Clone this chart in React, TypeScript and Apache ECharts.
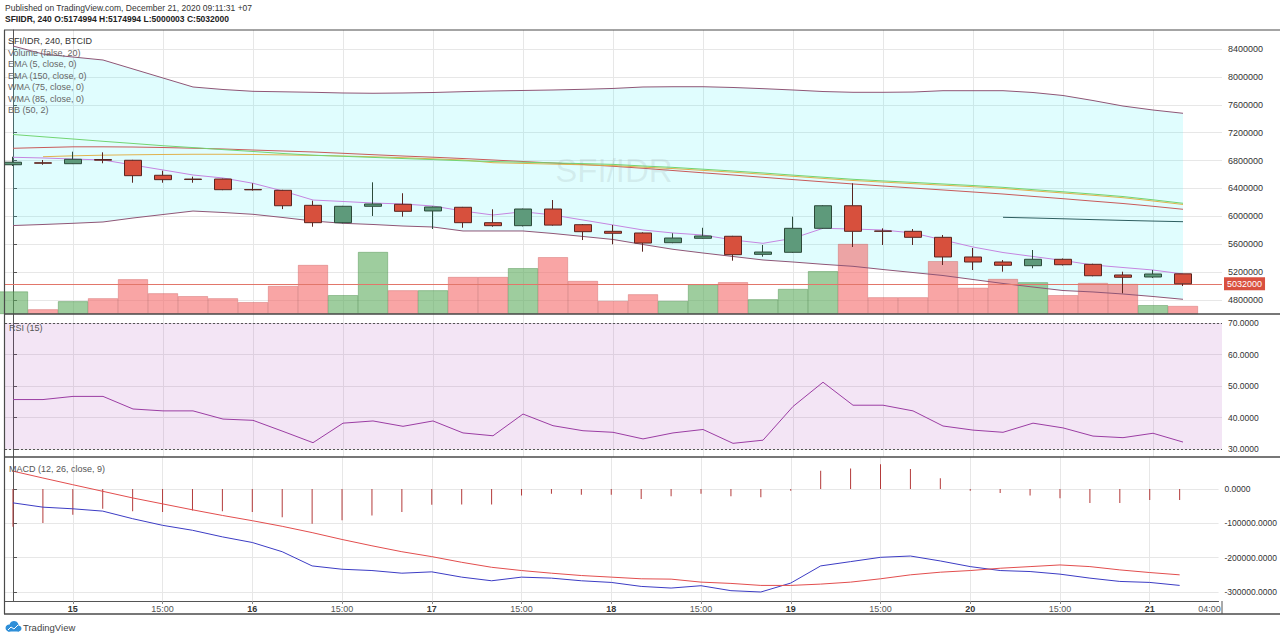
import React, { useEffect, useRef } from 'react';
import * as echarts from 'echarts';

// ---------- DATA ----------
// open, close, low, high per 4h bar (SFI/IDR)
const ohlc: [number, number, number, number][] = [
  [6740000, 6776000, 6722000, 6855000],
  [6768000, 6762000, 6740000, 6808000],
  [6755000, 6818000, 6750000, 6927000],
  [6815000, 6805000, 6761000, 6918000],
  [6804000, 6583000, 6482000, 6810000],
  [6589000, 6526000, 6482000, 6654000],
  [6535000, 6528000, 6482000, 6569000],
  [6535000, 6382000, 6375000, 6540000],
  [6385000, 6380000, 6369000, 6474000],
  [6373000, 6152000, 6104000, 6380000],
  [6158000, 5909000, 5851000, 6224000],
  [5909000, 6144000, 5900000, 6150000],
  [6144000, 6177000, 6005000, 6488000],
  [6173000, 6072000, 5995000, 6331000],
  [6077000, 6134000, 5818000, 6140000],
  [6130000, 5909000, 5836000, 6135000],
  [5909000, 5866000, 5851000, 6101000],
  [5866000, 6105000, 5855000, 6110000],
  [6105000, 5874000, 5865000, 6234000],
  [5880000, 5780000, 5660000, 5890000],
  [5785000, 5757000, 5599000, 5876000],
  [5761000, 5617000, 5493000, 5770000],
  [5622000, 5689000, 5615000, 5757000],
  [5685000, 5718000, 5680000, 5836000],
  [5714000, 5450000, 5364000, 5720000],
  [5455000, 5488000, 5421000, 5589000],
  [5484000, 5828000, 5475000, 5995000],
  [5828000, 6152000, 5820000, 6160000],
  [6152000, 5785000, 5560000, 6474000],
  [5790000, 5785000, 5589000, 5828000],
  [5785000, 5699000, 5589000, 5818000],
  [5699000, 5417000, 5302000, 5732000],
  [5417000, 5345000, 5230000, 5546000],
  [5345000, 5298000, 5206000, 5373000],
  [5292000, 5384000, 5255000, 5517000],
  [5384000, 5306000, 5295000, 5395000],
  [5312000, 5148000, 5140000, 5320000],
  [5159000, 5126000, 4896000, 5206000],
  [5130000, 5173000, 5115000, 5230000],
  [5174994, 5032000, 5000003, 5174994],
];

const volumes = [225, 47, 127, 157, 347, 207, 178, 157, 118, 280, 490, 188, 620, 237, 237, 370, 370, 458, 568, 330,
  130, 197, 130, 297, 318, 147, 250, 428, 700, 167, 167, 528, 262, 350, 317, 188, 310, 300, 88, 80];

const ema5 = [6847000, 6837000, 6822000, 6808000, 6736000, 6665000, 6593000, 6550000, 6474000, 6363000,
  6234000, 6213000, 6191000, 6177000, 6148000, 6076000, 6019000, 6066000, 6019000, 5947000,
  5876000, 5804000, 5761000, 5732000, 5661000, 5613000, 5685000, 5828000, 5818000, 5804000,
  5761000, 5661000, 5560000, 5481000, 5424000, 5367000, 5302000, 5266000, 5230000, 5173000];

const bbUpper = [8443000, 8328000, 8285000, 8242000, 8113000, 7984000, 7855000, 7819000, 7793000, 7786000,
  7779000, 7769000, 7765000, 7769000, 7776000, 7788000, 7798000, 7805000, 7812000, 7822000,
  7834000, 7855000, 7859000, 7859000, 7848000, 7831000, 7812000, 7790000, 7779000, 7779000,
  7783000, 7802000, 7802000, 7802000, 7776000, 7733000, 7661000, 7582000, 7525000, 7478000];

const bbLower = [5868000, 5883000, 5900000, 5919000, 5976000, 6026000, 6076000, 6055000, 6029000, 5983000,
  5933000, 5900000, 5883000, 5861000, 5847000, 5790000, 5790000, 5790000, 5754000, 5711000,
  5668000, 5596000, 5527000, 5474000, 5424000, 5374000, 5345000, 5312000, 5283000, 5237000,
  5194000, 5151000, 5094000, 5037000, 4986000, 4936000, 4915000, 4886000, 4850000, 4810000];

const wmaGreen = [7174000, 7141000, 7109000, 7076000, 7045000, 7013000, 6986000, 6957000, 6930000, 6901000,
  6877000, 6861000, 6845000, 6829000, 6814000, 6797000, 6786000, 6776000, 6766000, 6756000,
  6745000, 6722000, 6702000, 6676000, 6650000, 6622000, 6591000, 6561000, 6531000, 6508000,
  6487000, 6464000, 6442000, 6416000, 6383000, 6352000, 6319000, 6284000, 6237000, 6187000];

const emaRed = [6976000, 6987000, 6997000, 6997000, 6994000, 6987000, 6977000, 6966000, 6951000, 6937000,
  6923000, 6904000, 6884000, 6865000, 6848000, 6829000, 6808000, 6786000, 6765000, 6743000,
  6718000, 6689000, 6657000, 6624000, 6593000, 6560000, 6527000, 6495000, 6464000, 6435000,
  6406000, 6378000, 6349000, 6320000, 6286000, 6253000, 6218000, 6184000, 6144000, 6101000];

const wmaOrange = [null, 6855000, 6868000, 6877000, 6883000, 6887000, 6890000, 6890000, 6887000, 6881000,
  6874000, 6865000, 6854000, 6841000, 6825000, 6808000, 6769000, 6759000, 6749000, 6739000,
  6728000, 6705000, 6685000, 6659000, 6633000, 6604000, 6574000, 6544000, 6514000, 6491000,
  6469000, 6447000, 6425000, 6399000, 6366000, 6335000, 6302000, 6267000, 6220000, 6170000];

const tealLine = [null, null, null, null, null, null, null, null, null, null,
  null, null, null, null, null, null, null, null, null, null,
  null, null, null, null, null, null, null, null, null, null,
  null, null, null, 5986000, 5976000, 5965000, 5953000, 5942000, 5932000, 5923000];

const rsi = [45.7, 45.7, 46.7, 46.7, 42.7, 42.1, 42.1, 39.5, 39.1, 35.6,
  32.0, 38.2, 38.9, 37.2, 38.9, 35.1, 34.2, 41.1, 37.4, 35.8,
  35.3, 33.2, 35.1, 36.2, 31.8, 32.8, 43.5, 51.2, 43.9, 43.9,
  42.1, 37.3, 36.0, 35.3, 38.2, 36.7, 34.1, 33.6, 35.0, 32.2];

const macd = [-40400, -52900, -57700, -64400, -86500, -105800, -120200, -139400, -155800, -182700,
  -224000, -233700, -237500, -245200, -241300, -256700, -267300, -256700, -259600, -267300,
  -272100, -283700, -288500, -281700, -296100, -300000, -274000, -224000, -211500, -199000,
  -195200, -209600, -226000, -237500, -240400, -248000, -259600, -269200, -272100, -280800];

const signal = [52000, 32000, 12500, -6700, -26000, -43300, -60600, -77000, -92300, -108700,
  -127000, -147000, -165400, -182700, -197000, -213500, -228000, -237500, -245200, -252000,
  -256700, -261500, -262500, -271200, -275000, -280800, -280800, -277000, -271200, -261500,
  -250000, -242300, -237500, -230800, -226000, -221200, -226000, -235600, -243300, -250000];

const hist = [-110000, -99000, -75000, -57700, -65000, -67000, -62500, -65000, -67000, -82000,
  -101000, -91000, -77000, -67000, -46000, -45000, -45000, -19000, -14000, -17000,
  -17000, -29000, -21000, -14000, -21000, -24000, -5000, 53000, 60000, 72000,
  58000, 31000, -5000, -12000, -19000, -27000, -41000, -41000, -32000, -32000];

const xTickPos = [2, 5, 8, 11, 14, 17, 20, 23, 26, 29, 32, 35, 38, 40];
const xTickLabels = ['15', '15:00', '16', '15:00', '17', '15:00', '18', '15:00', '19', '15:00', '20', '15:00', '21', '04:00'];
const priceTicks = [4800000, 5200000, 5600000, 6000000, 6400000, 6800000, 7200000, 7600000, 8000000, 8400000];
const rsiTicks = [30, 40, 50, 60, 70];
const macdTicks = [0, -100000, -200000, -300000];

const legendLines = ['SFI/IDR, 240, BTCID', 'Volume (false, 20)', 'EMA (5, close, 0)', 'EMA (150, close, 0)',
  'WMA (75, close, 0)', 'WMA (85, close, 0)', 'BB (50, 2)'];

// ---------- CHART ----------
const FONT = '"Liberation Sans", Arial, sans-serif';
const X_MIN = -0.2667;
const X_MAX = 40.3;

const pts = (arr: (number | null)[]) =>
  arr.map((v, i) => (v == null ? null : [i, v])).filter((p) => p !== null) as number[][];

function buildOption() {
  const xGridPos = xTickPos.slice(0, -1);
  const lastClose = ohlc[ohlc.length - 1][1];

  const xAxisFor = (gi: number, labels: boolean) => ({
    type: 'value',
    gridIndex: gi,
    min: X_MIN,
    max: X_MAX,
    axisLine: { show: labels, onZero: false, lineStyle: { color: '#555', width: 1 } },
    axisTick: { show: labels, length: 3, customValues: xGridPos, lineStyle: { color: '#888' } },
    splitLine: { show: true, lineStyle: { color: '#e7e7e7', width: 1 } },
    axisLabel: labels
      ? {
          show: true,
          customValues: xTickPos,
          margin: 3,
          formatter: (v: number) => {
            const k = xTickPos.indexOf(Math.round(v));
            const t = k >= 0 ? xTickLabels[k] : '';
            return t.indexOf(':') >= 0 ? `{h|${t}}` : `{d|${t}}`;
          },
          rich: {
            d: { fontSize: 9, fontWeight: 'bold', color: '#333', fontFamily: FONT },
            h: { fontSize: 9, color: '#555', fontFamily: FONT },
          },
        }
      : { show: false },
  });

  const yAxisCommon = (gi: number, min: number, max: number, ticks: number[], fmt: (v: number) => string, fs: number) => ({
    type: 'value',
    gridIndex: gi,
    position: 'right',
    min,
    max,
    axisLine: { show: true, lineStyle: { color: '#555', width: 1 } },
    axisTick: { show: true, length: 4, customValues: ticks, lineStyle: { color: '#555' } },
    axisLabel: { show: true, customValues: ticks, formatter: fmt, fontSize: fs, color: '#333', margin: 6, fontFamily: FONT },
    splitLine: { show: true, lineStyle: { color: '#e7e7e7', width: 1 } },
  });

  const lineS = (name: string, data: (number | null)[], color: string, width = 1, z = 4) => ({
    name,
    type: 'line',
    xAxisIndex: 0,
    yAxisIndex: 0,
    data: pts(data),
    showSymbol: false,
    symbol: 'none',
    silent: true,
    z,
    lineStyle: { color, width },
  });

  const txt = (text: string, x: number, y: number, fill: string, fontSize: number, extra: any = {}) => ({
    type: 'text',
    x,
    y,
    z: 100,
    silent: true,
    style: { text, fill, fontSize, fontFamily: FONT, verticalAlign: 'middle', align: 'left', ...extra },
  });
  const ln = (x1: number, y1: number, x2: number, y2: number, stroke = '#4a4a4a', lineWidth = 1.2) => ({
    type: 'line',
    z: 100,
    silent: true,
    shape: { x1, y1, x2, y2 },
    style: { stroke, lineWidth },
  });

  return {
    animation: false,
    backgroundColor: '#ffffff',
    grid: [
      { left: 5, top: 30, width: 1217, height: 284 },
      { left: 5, top: 314, width: 1217, height: 143 },
      { left: 5, top: 457, width: 1217, height: 144 },
    ],
    xAxis: [xAxisFor(0, false), xAxisFor(1, false), xAxisFor(2, true)],
    yAxis: [
      yAxisCommon(0, 4599200, 8672500, priceTicks, (v: number) => String(v), 9),
      { type: 'value', gridIndex: 0, min: 0, max: 2840, show: false, splitLine: { show: false } },
      yAxisCommon(1, 27.46, 72.86, rsiTicks, (v: number) => v.toFixed(4), 8.5),
      yAxisCommon(2, -326200, 93200, macdTicks, (v: number) => v.toFixed(4), 8.5),
    ],
    series: [
      {
        name: 'BB band', type: 'custom', xAxisIndex: 0, yAxisIndex: 0, z: 1, silent: true, clip: true,
        data: [[0, bbLower[0]]],
        renderItem: (_params: any, api: any) => {
          const up = bbUpper.map((v, i) => api.coord([i, v]));
          const lo = bbLower.map((v, i) => api.coord([i, v])).reverse();
          return { type: 'polygon', shape: { points: up.concat(lo) }, style: { fill: 'rgba(17,238,247,0.13)' } };
        },
      },
      {
        name: 'Volume', type: 'bar', xAxisIndex: 0, yAxisIndex: 1, barWidth: 30, z: 2, silent: true,
        data: volumes.map((v, i) => {
          const up = ohlc[i][1] >= ohlc[i][0];
          return {
            value: [i, v],
            itemStyle: {
              color: up ? 'rgba(88,168,88,0.58)' : 'rgba(245,100,100,0.58)',
              borderColor: up ? 'rgba(70,140,70,0.7)' : 'rgba(200,80,80,0.6)',
              borderWidth: 0.6,
            },
          };
        }),
      },
      lineS('BB upper', bbUpper, '#8f5676', 1, 3),
      lineS('BB lower', bbLower, '#8f5676', 1, 3),
      lineS('BB basis', tealLine, '#2e5e60', 1, 3),
      lineS('EMA 150', emaRed, '#c85a5a', 1, 3),
      lineS('WMA 85', wmaOrange, '#e0b24e', 1, 3),
      lineS('WMA 75', wmaGreen, '#72d472', 1, 3),
      lineS('EMA 5', ema5, '#c585e0', 1, 3),
      {
        name: 'SFI/IDR', type: 'candlestick', xAxisIndex: 0, yAxisIndex: 0, barWidth: 17, z: 5, silent: true,
        data: ohlc.map((d, i) => [i, d[0], d[1], d[2], d[3]]),
        itemStyle: {
          color: '#5e9a7b',
          color0: '#d7503d',
          borderColor: '#2d4a3b',
          borderColor0: '#5a2520',
          borderWidth: 1,
        },
        markLine: {
          silent: true,
          symbol: ['none', 'none'],
          animation: false,
          lineStyle: { color: '#e2766a', width: 1, type: 'solid' },
          label: {
            show: true, position: 'end', distance: 2, formatter: String(lastClose),
            backgroundColor: '#d9503f', color: '#fff', padding: [2, 3, 2, 3], fontSize: 9, fontFamily: FONT,
          },
          data: [{ yAxis: lastClose }],
        },
      },
      {
        name: 'RSI', type: 'line', xAxisIndex: 1, yAxisIndex: 2, data: pts(rsi), showSymbol: false, symbol: 'none',
        silent: true, z: 4, lineStyle: { color: '#9b3da3', width: 1 },
        markArea: {
          silent: true,
          itemStyle: { color: 'rgba(156,39,176,0.12)' },
          data: [[{ yAxis: 30 }, { yAxis: 70 }]],
        },
        markLine: {
          silent: true,
          symbol: ['none', 'none'],
          label: { show: false },
          lineStyle: { color: '#555', width: 1, type: [2, 2] },
          data: [{ yAxis: 70 }, { yAxis: 30 }],
        },
      },
      {
        name: 'Histogram', type: 'bar', xAxisIndex: 2, yAxisIndex: 3, barWidth: 1, z: 3, silent: true,
        data: pts(hist), itemStyle: { color: '#b33a3a' },
      },
      {
        name: 'MACD', type: 'line', xAxisIndex: 2, yAxisIndex: 3, data: pts(macd), showSymbol: false, symbol: 'none',
        silent: true, z: 4, lineStyle: { color: '#3c3cc4', width: 1 },
      },
      {
        name: 'Signal', type: 'line', xAxisIndex: 2, yAxisIndex: 3, data: pts(signal), showSymbol: false, symbol: 'none',
        silent: true, z: 4, lineStyle: { color: '#e24e4e', width: 1 },
      },
    ],
    graphic: [
      txt('Published on TradingView.com, December 21, 2020 09:11:31 +07', 5, 8, '#333', 8.5),
      txt('SFIIDR, 240 O:5174994 H:5174994 L:5000003 C:5032000', 5, 19, '#222', 8.5, { fontWeight: 'bold' }),
      ...legendLines.map((t, i) => txt(t, 8, 41 + i * 11.5, i === 0 ? '#333' : '#666', 9)),
      txt('RSI (15)', 9, 328, '#555', 9),
      txt('MACD (12, 26, close, 9)', 9, 469, '#555', 9),
      {
        type: 'text', x: 614, y: 170, z: 6, silent: true,
        style: { text: 'SFI/IDR', fill: 'rgba(140,150,150,0.16)', fontSize: 33, fontFamily: FONT, align: 'center', verticalAlign: 'middle' },
      },
      ln(4, 30, 1280, 30),
      ln(4.5, 30, 4.5, 614),
      ln(4, 314, 1280, 314, '#4a4a4a', 1.5),
      ln(4, 457, 1280, 457, '#4a4a4a', 1.5),
      ln(4, 614, 1280, 614, '#4a4a4a', 1.5),
      ln(1222, 601, 1222, 614, '#555', 1),
      { type: 'circle', z: 100, silent: true, shape: { cx: 9, cy: 628, r: 3.5 }, style: { fill: '#2f8fd8' } },
      { type: 'circle', z: 100, silent: true, shape: { cx: 14, cy: 625.5, r: 4.5 }, style: { fill: '#2f8fd8' } },
      { type: 'circle', z: 100, silent: true, shape: { cx: 18.5, cy: 628.5, r: 3 }, style: { fill: '#2f8fd8' } },
      { type: 'rect', z: 100, silent: true, shape: { x: 8, y: 628, width: 11, height: 3.5 }, style: { fill: '#2f8fd8' } },
      { type: 'polyline', z: 101, silent: true, shape: { points: [[8, 630], [11, 627], [14, 629], [18, 625]] }, style: { stroke: '#fff', lineWidth: 1, fill: 'none' } },
      txt('TradingView', 23, 627, '#444', 9.5),
    ],
  };
}

export default function App() {
  const ref = useRef<HTMLDivElement>(null);
  useEffect(() => {
    if (!ref.current) return;
    const chart = echarts.init(ref.current, null, { renderer: 'svg' });
    chart.setOption(buildOption() as any);
    return () => chart.dispose();
  }, []);
  return (
    <div
      ref={ref}
      style={{ position: 'fixed', left: 0, top: 0, width: 1280, height: 639, background: '#fff' }}
    />
  );
}
